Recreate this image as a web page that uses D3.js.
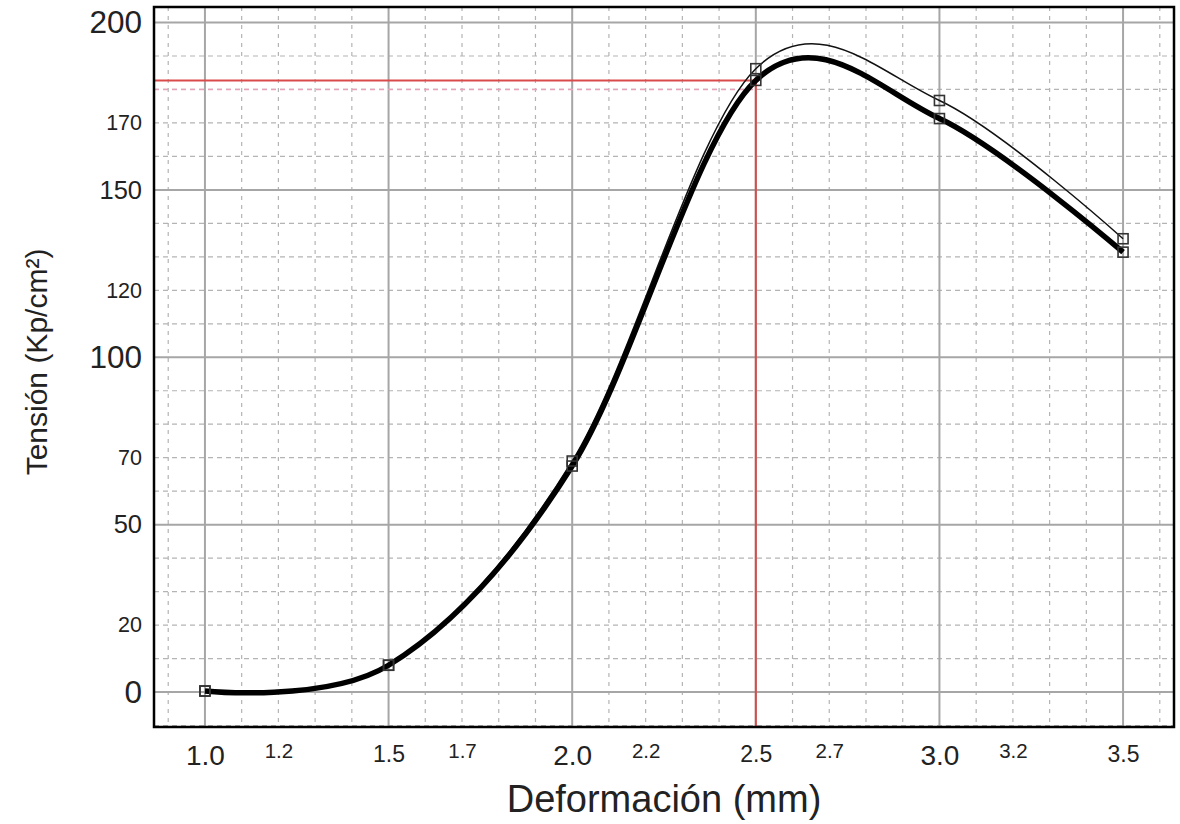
<!DOCTYPE html>
<html>
<head>
<meta charset="utf-8">
<script src="https://cdn.jsdelivr.net/npm/d3@7"></script>
<style>
  body { margin: 0; background: #fff; }
  svg { display: block; font-family: "Liberation Sans", Arial, sans-serif; }
  .tick text { fill: #222; }
</style>
</head>
<body>
<div class="grafico"></div>
<script>
// datos
var deformacion = [1.0, 1.5, 2.0, 2.5, 3.0, 3.5];
var tensionFina = [0.3, 8, 69, 186.2, 176.7, 135.4];
var tensionGruesa = [0.3, 8, 67.5, 182.7, 171.3, 131.4];

// etiquetas de los ejes (tres tamaños)
var xTicksGrandes = [1.0, 2.0, 3.0];
var xTicksMedios = [1.5, 2.5, 3.5];
var xTicksChicos = [1.2, 1.7, 2.2, 2.7, 3.2];
var yTicksGrandes = [0, 100, 200];
var yTicksMedios = [50, 150];
var yTicksChicos = [20, 70, 120, 170];

// punto marcado en rojo
var puntoRef = { x: 2.5, y: 182.7 };

document.addEventListener('DOMContentLoaded', function () {
  tensionViz();
});

function tensionViz() {
  var width = 1180, height = 824;
  var left = 154, right = 1174, top = 7, bottom = 727;

  var svg = d3.select('div.grafico').append('svg')
      .attr('width', width)
      .attr('height', height);

  var xScale = d3.scaleLinear().domain([0.8613, 3.6387]).range([left, right]);
  var yScale = d3.scaleLinear().domain([-10.45, 204.63]).range([bottom, top]);

  // rejilla menor (cada 0.1 y cada 10)
  var xMenor = d3.range(9, 37).map(function (d) { return d / 10; }).filter(function (d) { return Math.round(d * 10) % 5 != 0; });
  var yMenor = d3.range(-10, 205, 10).filter(function (d) { return d % 50 != 0; });
  var xMayor = d3.range(1, 3.6, 0.5);
  var yMayor = d3.range(0, 201, 50);

  var grid = svg.append('g').attr('class', 'grid');
  grid.selectAll('line.xmenor')
    .data(xMenor)
    .enter().append('line')
    .attr('x1', d => xScale(d)).attr('x2', d => xScale(d))
    .attr('y1', top).attr('y2', bottom)
    .attr('stroke', '#b4b4b4').attr('stroke-width', 1.2)
    .attr('stroke-dasharray', '4,5');
  grid.selectAll('line.ymenor')
    .data(yMenor)
    .enter().append('line')
    .attr('x1', left).attr('x2', right)
    .attr('y1', d => yScale(d)).attr('y2', d => yScale(d))
    .attr('stroke', '#b4b4b4').attr('stroke-width', 1.2)
    .attr('stroke-dasharray', '5,4');
  grid.selectAll('line.xmayor')
    .data(xMayor)
    .enter().append('line')
    .attr('x1', d => xScale(d)).attr('x2', d => xScale(d))
    .attr('y1', top).attr('y2', bottom)
    .attr('stroke', '#a6a6a6').attr('stroke-width', 2);
  grid.selectAll('line.ymayor')
    .data(yMayor)
    .enter().append('line')
    .attr('x1', left).attr('x2', right)
    .attr('y1', d => yScale(d)).attr('y2', d => yScale(d))
    .attr('stroke', '#a6a6a6').attr('stroke-width', 2);

  // tramo rosado de la linea de 180
  svg.append('line')
    .attr('x1', left).attr('x2', xScale(puntoRef.x))
    .attr('y1', yScale(180)).attr('y2', yScale(180))
    .attr('stroke', '#e6a3b6').attr('stroke-width', 1.4)
    .attr('stroke-dasharray', '5,4');

  // lineas rojas
  svg.append('line')
    .attr('x1', left).attr('x2', xScale(puntoRef.x))
    .attr('y1', yScale(puntoRef.y)).attr('y2', yScale(puntoRef.y))
    .attr('stroke', '#d94a4a').attr('stroke-width', 2);
  svg.append('line')
    .attr('x1', xScale(puntoRef.x)).attr('x2', xScale(puntoRef.x))
    .attr('y1', yScale(puntoRef.y)).attr('y2', bottom)
    .attr('stroke', '#d94a4a').attr('stroke-width', 2);

  var line = d3.line()
      .x(d => xScale(d[0]))
      .y(d => yScale(d[1]))
      .curve(d3.curveCardinal.tension(0));

  var datosFina = deformacion.map((d, i) => [d, tensionFina[i]]);
  var datosGruesa = deformacion.map((d, i) => [d, tensionGruesa[i]]);

  svg.append('path')
    .attr('d', line(datosFina))
    .attr('stroke', '#111').attr('stroke-width', 1.5)
    .attr('fill', 'none');
  svg.append('path')
    .attr('d', line(datosGruesa))
    .attr('stroke', '#000').attr('stroke-width', 5.5)
    .attr('fill', 'none');

  var size = 10;
  [datosFina, datosGruesa].forEach(function (datos) {
    svg.append('g').selectAll('rect')
      .data(datos)
      .enter().append('rect')
      .attr('x', d => xScale(d[0]) - size / 2)
      .attr('y', d => yScale(d[1]) - size / 2)
      .attr('width', size).attr('height', size)
      .attr('fill', 'none')
      .attr('stroke', '#333').attr('stroke-width', 1.6);
  });

  // marco
  svg.append('rect')
    .attr('x', left).attr('y', top)
    .attr('width', right - left).attr('height', bottom - top)
    .attr('fill', 'none').attr('stroke', '#000').attr('stroke-width', 2.5);

  // ejes
  var fmt = d3.format('.1f');
  function ejeX(valores, tam, pad) {
    var g = svg.append('g')
      .attr('transform', 'translate(0,' + bottom + ')')
      .call(d3.axisBottom(xScale).tickValues(valores).tickFormat(fmt).tickSize(0).tickPadding(pad));
    g.select('.domain').remove();
    g.selectAll('text').style('font-size', tam + 'px').style('font-family', '"Liberation Sans", Arial, sans-serif');
  }
  ejeX(xTicksGrandes, 28, 18);
  ejeX(xTicksMedios, 23, 18.7);
  ejeX(xTicksChicos, 20.5, 16);

  function ejeY(valores, tam) {
    var g = svg.append('g')
      .attr('transform', 'translate(' + left + ',0)')
      .call(d3.axisLeft(yScale).tickValues(valores).tickFormat(d3.format('d')).tickSize(0).tickPadding(12));
    g.select('.domain').remove();
    g.selectAll('text').style('font-size', tam + 'px').style('font-family', '"Liberation Sans", Arial, sans-serif');
  }
  ejeY(yTicksGrandes, 31.5);
  ejeY(yTicksMedios, 25.5);
  ejeY(yTicksChicos, 21.5);

  svg.append('text')
    .attr('x', 664).attr('y', 812)
    .attr('text-anchor', 'middle')
    .style('font-size', '38px').style('fill', '#222')
    .text('Deformación (mm)');

  svg.append('text')
    .attr('transform', 'translate(47,362) rotate(-90)')
    .attr('text-anchor', 'middle')
    .style('font-size', '30px').style('fill', '#222')
    .text('Tensión (Kp/cm²)');
}
</script>
</body>
</html>
